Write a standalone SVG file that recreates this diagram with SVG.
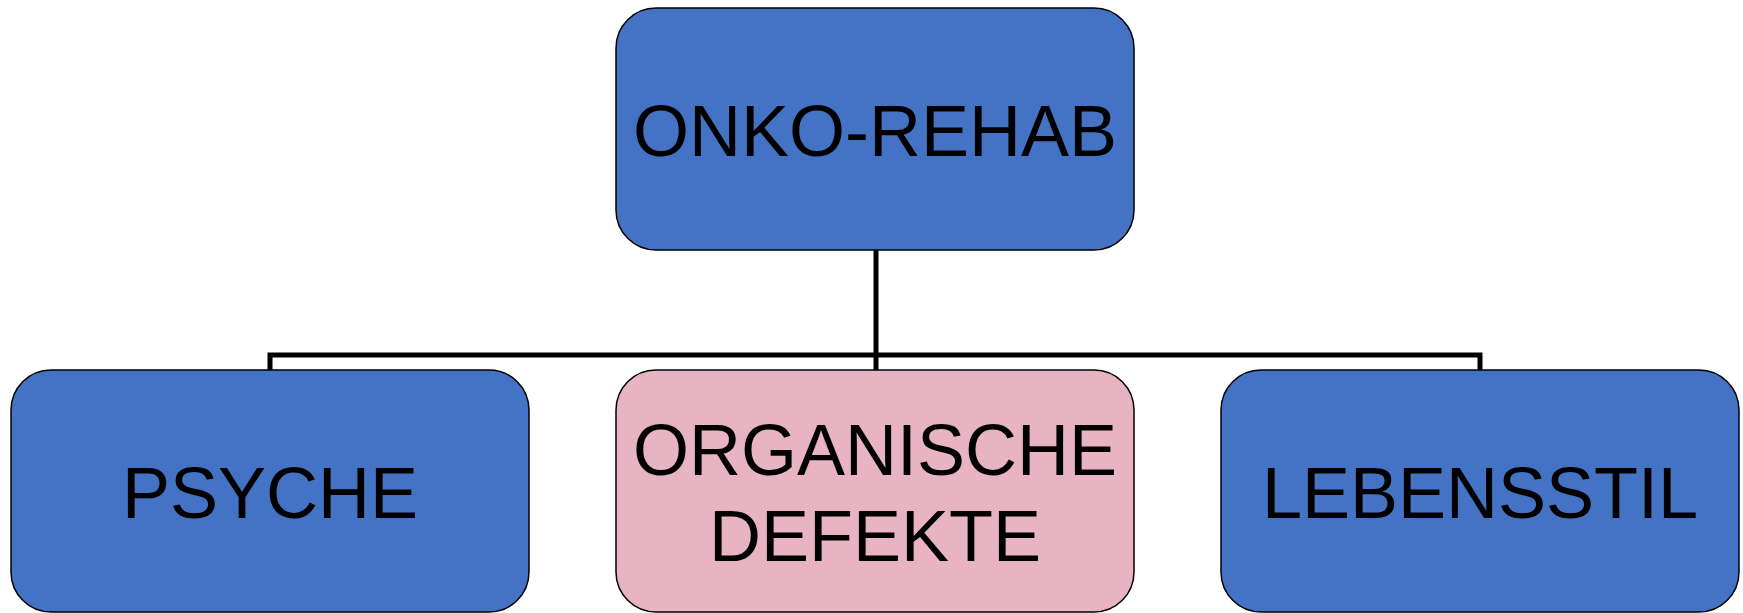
<svg xmlns="http://www.w3.org/2000/svg" width="1743" height="613" viewBox="0 0 1743 613">
<style>
.box{stroke:#000;stroke-width:1.5}
.blue{fill:#4472C4}
.pink{fill:#E8B3C3}
.lbl{font-family:"Liberation Sans",Arial,sans-serif;font-size:72px;fill:#000;text-anchor:middle}
.conn{fill:none;stroke:#000;stroke-width:5}
</style>
<rect width="1743" height="613" fill="#fff"/>
<g id="connectors">
<path class="conn" d="M876,250 V370"/>
<path class="conn" d="M270,370 V355 H1480 V370"/>
</g>
<g id="onko-rehab">
<rect class="box blue" x="616" y="8" width="518" height="242" rx="40"/>
<text class="lbl" x="875" y="156">ONKO-REHAB</text>
</g>
<g id="psyche">
<rect class="box blue" x="11" y="370" width="518" height="242" rx="40"/>
<text class="lbl" x="270" y="518">PSYCHE</text>
</g>
<g id="organische-defekte">
<rect class="box pink" x="616" y="370" width="518" height="242" rx="40"/>
<text class="lbl" x="875" y="475">ORGANISCHE</text>
<text class="lbl" x="875" y="561">DEFEKTE</text>
</g>
<g id="lebensstil">
<rect class="box blue" x="1221" y="370" width="518" height="242" rx="40"/>
<text class="lbl" x="1480" y="518">LEBENSSTIL</text>
</g>
</svg>
